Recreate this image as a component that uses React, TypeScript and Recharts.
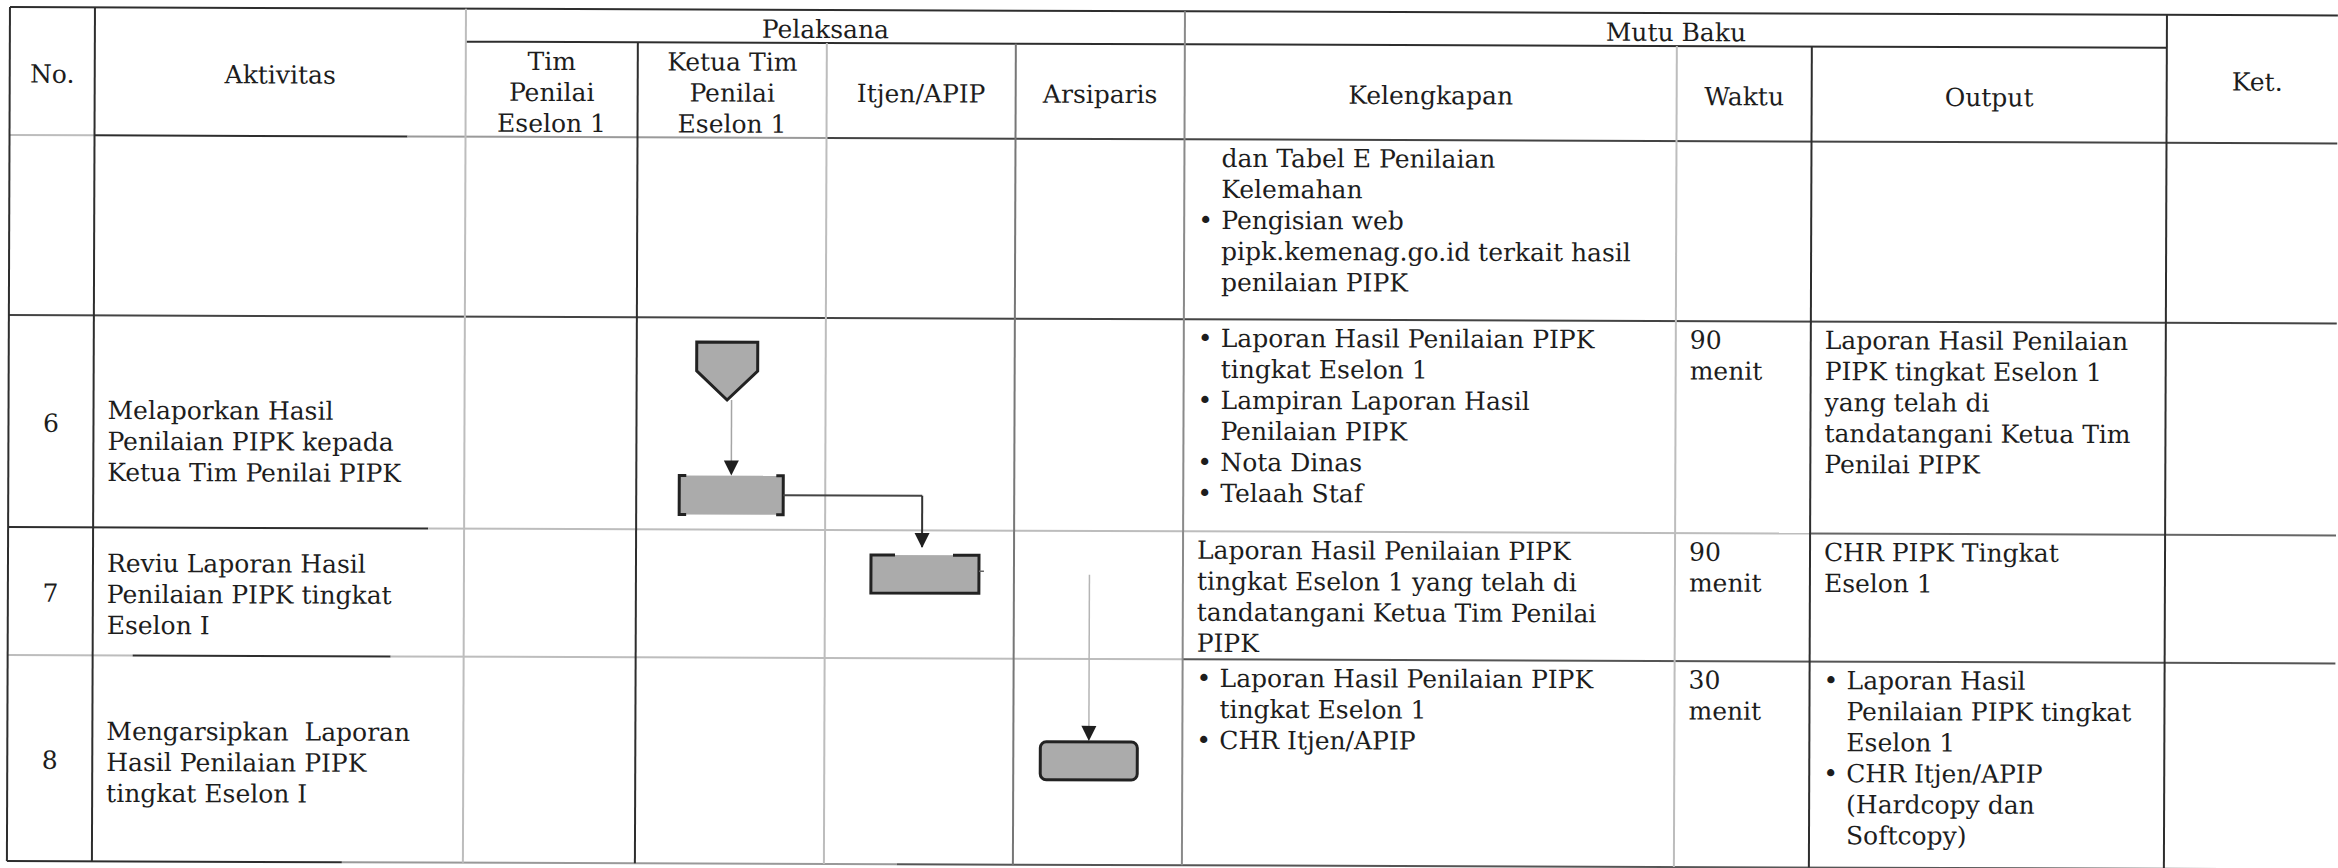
import React from "react";
import {
  ScatterChart,
  Scatter,
  XAxis,
  YAxis,
  ReferenceLine,
  ReferenceArea,
} from "recharts";

const W = 2338;
const H = 868;

// header texts
const groupHeaders = ["Pelaksana", "Mutu Baku"];
const columnHeaders = [
  ["No."],
  ["Aktivitas"],
  ["Tim", "Penilai", "Eselon 1"],
  ["Ketua Tim", "Penilai", "Eselon 1"],
  ["Itjen/APIP"],
  ["Arsiparis"],
  ["Kelengkapan"],
  ["Waktu"],
  ["Output"],
  ["Ket."],
];

// body rows: first row is the tail of step 5 from the previous page
const stepNo = ["", "6", "7", "8"];
const aktivitas = [
  [],
  ["Melaporkan Hasil", "Penilaian PIPK kepada", "Ketua Tim Penilai PIPK"],
  ["Reviu Laporan Hasil", "Penilaian PIPK tingkat", "Eselon I"],
  ["Mengarsipkan  Laporan", "Hasil Penilaian PIPK", "tingkat Eselon I"],
];
// "• " starts a bullet, "  " continues one
const kelengkapan = [
  [
    "  dan Tabel E Penilaian",
    "  Kelemahan",
    "• Pengisian web",
    "  pipk.kemenag.go.id terkait hasil",
    "  penilaian PIPK",
  ],
  [
    "• Laporan Hasil Penilaian PIPK",
    "  tingkat Eselon 1",
    "• Lampiran Laporan Hasil",
    "  Penilaian PIPK",
    "• Nota Dinas",
    "• Telaah Staf",
  ],
  [
    "Laporan Hasil Penilaian PIPK",
    "tingkat Eselon 1 yang telah di",
    "tandatangani Ketua Tim Penilai",
    "PIPK",
  ],
  ["• Laporan Hasil Penilaian PIPK", "  tingkat Eselon 1", "• CHR Itjen/APIP"],
];
const waktu = [[], ["90", "menit"], ["90", "menit"], ["30", "menit"]];
const output = [
  [],
  [
    "Laporan Hasil Penilaian",
    "PIPK tingkat Eselon 1",
    "yang telah di",
    "tandatangani Ketua Tim",
    "Penilai PIPK",
  ],
  ["CHR PIPK Tingkat", "Eselon 1"],
  [
    "• Laporan Hasil",
    "  Penilaian PIPK tingkat",
    "  Eselon 1",
    "• CHR Itjen/APIP",
    "  (Hardcopy dan",
    "  Softcopy)",
  ],
];

// flow chart: lanes are the Pelaksana columns, row is the body row
const flowNodes = [
  { id: "start", kind: "connector", lane: 1, row: 1 },
  { id: "lapor", kind: "bracket", lane: 1, row: 1 },
  { id: "reviu", kind: "openTop", lane: 2, row: 2 },
  { id: "arsip", kind: "rounded", lane: 3, row: 3 },
];
const flowEdges = [
  ["start", "lapor"],
  ["lapor", "reviu"],
  ["reviu", "arsip"],
];

// ---- layout (pixels of the scanned form, before the slight scan tilt) ----
const colEdges = [10, 95, 466, 638, 827, 1016, 1185, 1677, 1812, 2167, 2348];
const rowEdges = [7, 40, 135, 315, 527, 655, 861];
const TILT = 0.206; // degrees, the page was scanned slightly rotated
const LINE = 31;
const FONT = 25;
const nodeDepth: Record<string, number> = { start: 0.252, lapor: 0.837, reviu: 0.342, arsip: 0.495 };
const nodeShift: Record<string, number> = { start: -4, lapor: 0.5, reviu: 5.5, arsip: -9 };
const nodeSize: Record<string, [number, number]> = {
  connector: [61, 58],
  bracket: [104, 39],
  openTop: [108, 38],
  rounded: [97, 38],
};
const activityShift = [0, 20, 3, 4];

type TextPoint = { x: number; y: number; text: string; anchor: string };

const bodyTop = (r: number) => rowEdges[2 + r];
const bodyBottom = (r: number) => rowEdges[3 + r];
const mid = (a: number, b: number) => (a + b) / 2;

function buildTexts(): TextPoint[] {
  const pts: TextPoint[] = [];

  pts.push({ x: mid(colEdges[2], colEdges[6]), y: mid(rowEdges[0], rowEdges[1]) + 3, text: groupHeaders[0], anchor: "middle" });
  pts.push({ x: mid(colEdges[6], colEdges[9]), y: mid(rowEdges[0], rowEdges[1]) + 3, text: groupHeaders[1], anchor: "middle" });

  columnHeaders.forEach((lines, c) => {
    const full = c === 0 || c === 1 || c === 9;
    const top = full ? rowEdges[0] : rowEdges[1];
    const cy = mid(top, rowEdges[2]) + 3;
    lines.forEach((t, i) => {
      pts.push({ x: mid(colEdges[c], colEdges[c + 1]), y: cy + (i - (lines.length - 1) / 2) * LINE, text: t, anchor: "middle" });
    });
  });

  const cell = (lines: string[], c: number, r: number) => {
    const left = colEdges[c];
    lines.forEach((t, i) => {
      const y = bodyTop(r) + 19 + i * LINE;
      if (t.startsWith("• ")) {
        pts.push({ x: left + 14, y, text: "•", anchor: "start" });
        pts.push({ x: left + 37, y, text: t.slice(2), anchor: "start" });
      } else if (t.startsWith("  ")) {
        pts.push({ x: left + 37, y, text: t.slice(2), anchor: "start" });
      } else {
        pts.push({ x: left + 14, y, text: t, anchor: "start" });
      }
    });
  };

  stepNo.forEach((n, r) => {
    if (!n) return;
    const cy = mid(bodyTop(r), bodyBottom(r));
    pts.push({ x: mid(colEdges[0], colEdges[1]), y: cy + 2, text: n, anchor: "middle" });
    const lines = aktivitas[r];
    lines.forEach((t, i) => {
      pts.push({ x: colEdges[1] + 14, y: cy + activityShift[r] + (i - (lines.length - 1) / 2) * LINE, text: t, anchor: "start" });
    });
  });
  kelengkapan.forEach((l, r) => cell(l, 6, r));
  waktu.forEach((l, r) => cell(l, 7, r));
  output.forEach((l, r) => cell(l, 8, r));
  return pts;
}

const textPoints = buildTexts();

const DARK = "#2e2e2e";
const MID = "#777";
const LIGHT = "#bdbdbd";

// table rules: [x1, y1, x2, y2, colour]
const C = colEdges;
const R = rowEdges;
const rules: [number, number, number, number, string][] = [
  // horizontal
  [C[0], R[0], W, R[0], DARK],
  [C[2], R[1], C[9], R[1], DARK],
  [C[0], R[2], C[1], R[2], LIGHT],
  [C[1], R[2], 408, R[2], DARK],
  [408, R[2], C[4], R[2], "#9a9a9a"],
  [C[4], R[2], W, R[2], "#444"],
  [C[0], R[3], W, R[3], "#444"],
  [C[0], R[4], 430, R[4], DARK],
  [430, R[4], C[8], R[4], LIGHT],
  [C[8], R[4], W, R[4], "#666"],
  [C[0], R[5], 135, R[5], LIGHT],
  [135, R[5], 393, R[5], DARK],
  [393, R[5], C[6], R[5], LIGHT],
  [C[6], R[5], W, R[5], "#555"],
  [C[0], R[6], 345, R[6], DARK],
  [345, R[6], 900, R[6], "#999"],
  [900, R[6], W, R[6], "#555"],
  // vertical
  [C[0], R[0], C[0], R[6], DARK],
  [C[1], R[0], C[1], R[6], DARK],
  [C[2], R[0], C[2], R[6], LIGHT],
  [C[3], R[1], C[3], R[6], DARK],
  [C[4], R[1], C[4], R[6], LIGHT],
  [C[5], R[1], C[5], R[6], MID],
  [C[6], R[0], C[6], R[6], "#8a8a8a"],
  [C[7], R[1], C[7], R[6], LIGHT],
  [C[8], R[1], C[8], R[6], DARK],
  [C[9], R[0], C[9], R[6], DARK],
];

// node geometry
const nodes = flowNodes.map((n) => {
  const cx = mid(colEdges[2 + n.lane], colEdges[3 + n.lane]) + nodeShift[n.id];
  const cy = bodyTop(n.row) + nodeDepth[n.id] * (bodyBottom(n.row) - bodyTop(n.row));
  const [w, h] = nodeSize[n.kind];
  return { ...n, cx, cy, w, h };
});
const nodeById = Object.fromEntries(nodes.map((n) => [n.id, n]));

type Seg = { pts: { x: number; y: number }[]; stroke: string; width: number };
const segs: Seg[] = [];
const arrowTips: { x: number; y: number }[] = [];
flowEdges.forEach(([a, b]) => {
  const s = nodeById[a];
  const t = nodeById[b];
  const tTop = t.cy - t.h / 2;
  if (s.lane === t.lane) {
    segs.push({ pts: [{ x: t.cx, y: s.cy + s.h / 2 }, { x: t.cx, y: tTop - 2 }], stroke: "#a5a5a5", width: 1.5 });
    arrowTips.push({ x: t.cx, y: tTop });
  } else if (s.kind === "bracket") {
    const xr = t.cx - 3;
    segs.push({ pts: [{ x: s.cx + s.w / 2, y: s.cy }, { x: xr, y: s.cy }], stroke: "#444", width: 2 });
    segs.push({ pts: [{ x: xr, y: s.cy }, { x: xr, y: tTop - 8 }], stroke: "#333", width: 2 });
    arrowTips.push({ x: xr, y: tTop - 7 });
    // faint stub on the right side of the review box
    segs.push({ pts: [{ x: t.cx + t.w / 2, y: t.cy - 3 }, { x: t.cx + t.w / 2 + 5, y: t.cy - 3 }], stroke: "#666", width: 1.5 });
  } else {
    segs.push({ pts: [{ x: t.cx, y: s.cy }, { x: t.cx, y: tTop - 2 }], stroke: "#b5b5b5", width: 1.5 });
    arrowTips.push({ x: t.cx, y: tTop - 1 });
  }
});

const BOX_FILL = "#ababab";
const INK = "#222";

const drawNode = (kind: string) => (p: any) => {
  const { x, y, width: w, height: h } = p;
  if (kind === "connector") {
    const pts = `${x},${y} ${x + w},${y} ${x + w},${y + h / 2} ${x + w / 2},${y + h} ${x},${y + h / 2}`;
    return <polygon points={pts} fill={BOX_FILL} stroke={INK} strokeWidth={3} strokeLinejoin="miter" />;
  }
  if (kind === "bracket") {
    return (
      <g>
        <rect x={x} y={y} width={w} height={h} fill={BOX_FILL} />
        <path
          d={`M${x + 7},${y} H${x} V${y + h} H${x + 7} M${x + w - 7},${y} H${x + w} V${y + h} H${x + w - 7}`}
          fill="none"
          stroke={INK}
          strokeWidth={3}
        />
      </g>
    );
  }
  if (kind === "openTop") {
    return (
      <g>
        <rect x={x} y={y} width={w} height={h} fill={BOX_FILL} />
        <path
          d={`M${x + 24},${y} H${x} V${y + h} H${x + w} V${y} H${x + w - 26}`}
          fill="none"
          stroke={INK}
          strokeWidth={3}
        />
      </g>
    );
  }
  return <rect x={x} y={y} width={w} height={h} rx={6} ry={6} fill={BOX_FILL} stroke={INK} strokeWidth={3} />;
};

const renderText = (p: any) => (
  <text
    x={p.cx}
    y={p.cy}
    textAnchor={p.payload.anchor}
    dominantBaseline="central"
    fontFamily="'DejaVu Serif', serif"
    fontSize={FONT}
    fill="#1d1d1d"
    style={{ whiteSpace: "pre" }}
  >
    {p.payload.text}
  </text>
);

const renderArrow = (p: any) => (
  <polygon
    points={`${p.cx - 7.5},${p.cy - 15} ${p.cx + 7.5},${p.cy - 15} ${p.cx},${p.cy}`}
    fill="#1f1f1f"
  />
);

export default function App() {
  return (
    <div
      style={{
        position: "absolute",
        left: 0,
        top: 0,
        width: W,
        height: H,
        background: "#fff",
        overflow: "hidden",
      }}
    >
      <div style={{ transform: `rotate(${TILT}deg)`, transformOrigin: "0 0" }}>
        <ScatterChart width={W} height={H} margin={{ top: 0, right: 0, bottom: 0, left: 0 }}>
          <XAxis type="number" dataKey="x" domain={[0, W]} allowDataOverflow hide />
          <YAxis type="number" dataKey="y" domain={[0, H]} allowDataOverflow reversed hide />
          {rules.map(([x1, y1, x2, y2, c], i) => (
            <ReferenceLine
              key={`r${i}`}
              segment={[{ x: x1, y: y1 }, { x: x2, y: y2 }]}
              stroke={c}
              strokeWidth={2}
              ifOverflow="visible"
            />
          ))}
          {segs.flatMap((s, i) =>
            s.pts.slice(1).map((q, j) => (
              <ReferenceLine
                key={`s${i}-${j}`}
                segment={[s.pts[j], q]}
                stroke={s.stroke}
                strokeWidth={s.width}
                ifOverflow="visible"
              />
            ))
          )}
          {nodes.map((n) => (
            <ReferenceArea
              key={n.id}
              x1={n.cx - n.w / 2}
              x2={n.cx + n.w / 2}
              y1={n.cy - n.h / 2}
              y2={n.cy + n.h / 2}
              shape={drawNode(n.kind)}
              ifOverflow="visible"
            />
          ))}
          <Scatter data={arrowTips} shape={renderArrow} isAnimationActive={false} />
          <Scatter data={textPoints} shape={renderText} isAnimationActive={false} />
        </ScatterChart>
      </div>
    </div>
  );
}
